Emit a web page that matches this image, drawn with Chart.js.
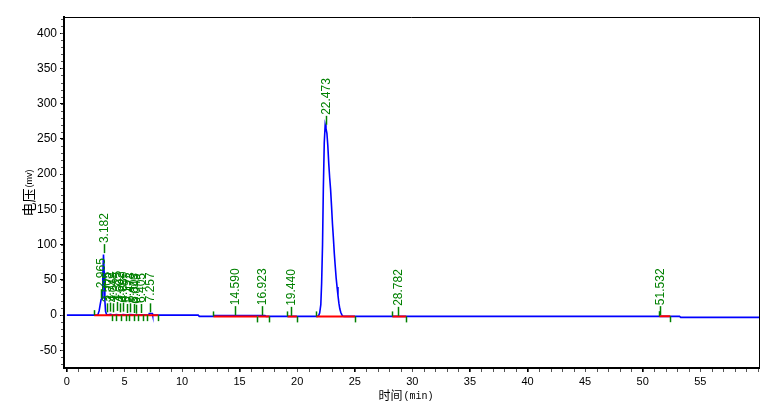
<!DOCTYPE html>
<html>
<head>
<meta charset="utf-8">
<script src="https://cdn.jsdelivr.net/npm/chart.js@4.4.1/dist/chart.umd.min.js"></script>
<style>
html,body{margin:0;padding:0;background:#fff;}
#wrap{width:780px;height:418px;}
</style>
</head>
<body>
<div id="wrap"><canvas id="c" width="780" height="418"></canvas></div>
<script>
// ---- data ----
const sigTime = [0, 2.6, 2.7, 2.8, 2.88, 2.97, 3.05, 3.12, 3.18, 3.24, 3.3, 3.36, 3.45, 3.6, 3.8, 4.0, 4.3, 4.6, 4.9, 5.2, 5.5, 6.0, 6.5, 7.0, 7.12, 7.15, 7.42, 7.45,
  11.4, 11.5, 12.7, 12.8, 17.2, 17.3, 21.75, 21.85, 21.95, 22.05, 22.12, 22.2, 22.27, 22.35, 22.43, 22.5, 22.58, 22.66, 22.74, 22.82, 22.9, 22.98, 23.06, 23.14, 23.22, 23.3, 23.38, 23.46, 23.54, 23.62, 23.7, 23.78, 23.86, 23.95, 24.1,
  53.2, 53.3, 60.1];
const sigValue = [0, 0, 1, 6, 14, 22, 24, 55, 86, 60, 20, 5, 1, 0.5, 1.2, 0.3, 1, 0.3, 1, 0.3, 0.8, 0.3, 0.6, 0, 0, 2.4, 2.4, 0,
  0, -1.8, -1.8, -0.5, -0.5, -1.8, -1.8, -1, 3, 15, 45, 100, 180, 245, 270, 265, 258, 240, 215, 195, 178, 155, 130, 110, 88, 70, 53, 40, 28, 17, 9, 4, 1, -1.5, -1.8,
  -1.8, -3.2, -3.2];

const peakTimes   = [2.965, 3.182, 3.505, 3.772, 4.048, 4.325, 4.602, 4.880, 5.197, 5.473, 5.803, 6.045, 6.405, 7.257, 14.590, 16.923, 19.440, 22.473, 28.782, 51.532];
const peakLabels  = ["2.965", "3.182", "3.505", "3.772", "4.048", "4.325", "4.602", "4.880", "5.197", "5.473", "5.803", "6.045", "6.405", "7.257", "14.590", "16.923", "19.440", "22.473", "28.782", "51.532"];
const peakHeights = [24, 88, 4, 5, 4, 6, 4, 5, 3, 4, 3, 2, 3, 4, 0, 0, -1, 270, -1, 0];

const baseStart = [2.37, 12.72, 16.6, 19.15, 21.65, 28.26, 51.45];
const baseEnd   = [7.95, 16.55, 17.6, 19.97, 25.02, 29.47, 52.4];
const baseLevel = [0, -1.8, -1.8, -1.8, -1.8, -1.8, -1.5];

const markTimes = [2.37, 7.95, 3.96, 4.25, 4.68, 5.12, 5.4, 5.84, 6.19, 6.57, 7.0, 12.72, 16.55, 17.56, 19.15, 19.97, 21.65, 25.02, 28.26, 29.47, 51.45, 52.4];
const markDirs  = [1, -1, -1, -1, -1, -1, -1, -1, -1, -1, -1, 1, -1, -1, 1, -1, 1, -1, 1, -1, 1, -1];
const markLevel = [0, 0, 0, 0, 0, 0, 0, 0, 0, 0, 0, -1.8, -1.8, -1.8, -1.8, -1.8, -1.8, -1.8, -1.8, -1.8, -1.5, -1.5];

const xMajorTicks = [0, 5, 10, 15, 20, 25, 30, 35, 40, 45, 50, 55];
const yMajorTicks = [-50, 0, 50, 100, 150, 200, 250, 300, 350, 400];
const xMinorTicks = Array.from({length: 61}, (_, i) => i);
const yMinorTicks = Array.from({length: 50}, (_, i) => -70 + i * 10);

const yTitleMain = "电压", yTitleUnit = "(mv)";
const xTitleMain = "时间", xTitleUnit = "(min)";

// ---- build datasets ----
const sigPts = sigTime.map((t, i) => ({x: t, y: sigValue[i]}));
const basePts = [];
baseStart.forEach((s, i) => {
  basePts.push({x: s, y: baseLevel[i]}, {x: baseEnd[i], y: baseLevel[i]}, {x: baseEnd[i], y: null});
});

const GREEN = '#008000';
const overlay = {
  id: 'overlay',
  afterDatasetsDraw(chart) {
    const ctx = chart.ctx, xs = chart.scales.x, ys = chart.scales.y;
    ctx.save();
    ctx.strokeStyle = GREEN; ctx.lineWidth = 1.5;
    markTimes.forEach((t, i) => {
      const px = Math.round(xs.getPixelForValue(t)) + 0.5;
      const py = ys.getPixelForValue(markLevel[i]);
      ctx.beginPath();
      if (markDirs[i] > 0) { ctx.moveTo(px, py); ctx.lineTo(px, py - 5); }
      else { ctx.moveTo(px, py); ctx.lineTo(px, py + 6); }
      ctx.stroke();
    });
    ctx.fillStyle = GREEN;
    ctx.font = '12px "Liberation Sans", Arial, sans-serif';
    peakTimes.forEach((t, i) => {
      const px = Math.round(xs.getPixelForValue(t)) + 0.5;
      const py = ys.getPixelForValue(peakHeights[i]);
      ctx.beginPath(); ctx.moveTo(px, py); ctx.lineTo(px, py - 9); ctx.stroke();
      ctx.save();
      ctx.translate(px, py - 10);
      ctx.rotate(-Math.PI / 2);
      ctx.textAlign = 'left'; ctx.textBaseline = 'middle';
      ctx.fillText(peakLabels[i], 0, 0);
      ctx.restore();
    });
    ctx.restore();
  },
  afterDraw(chart) {
    const ctx = chart.ctx, xs = chart.scales.x, ys = chart.scales.y, a = chart.chartArea;
    ctx.save();
    ctx.strokeStyle = '#000';
    ctx.lineWidth = 1;
    ctx.beginPath();
    ctx.moveTo(a.left, a.top + 0.5); ctx.lineTo(a.right + 0.5, a.top + 0.5); ctx.lineTo(a.right + 0.5, a.bottom);
    ctx.stroke();
    ctx.strokeStyle = '#555';
    xMinorTicks.forEach(v => {
      const px = Math.round(xs.getPixelForValue(v)) + 0.5;
      ctx.beginPath(); ctx.moveTo(px, a.bottom + 1); ctx.lineTo(px, a.bottom + 4); ctx.stroke();
    });
    yMinorTicks.forEach(v => {
      const py = Math.round(ys.getPixelForValue(v)) + 0.5;
      ctx.beginPath(); ctx.moveTo(a.left - 1, py); ctx.lineTo(a.left - 3, py); ctx.stroke();
    });
    ctx.fillStyle = '#000';
    ctx.textBaseline = 'middle';
    ctx.save();
    ctx.translate(29, 193);
    ctx.rotate(-Math.PI / 2);
    ctx.font = '14px "Noto Sans CJK SC", sans-serif';
    const w1 = ctx.measureText(yTitleMain).width;
    ctx.font = '9px "Liberation Sans", Arial, sans-serif';
    const w2 = ctx.measureText(yTitleUnit).width;
    let sx = -(w1 + w2 + 1) / 2;
    ctx.textAlign = 'left';
    ctx.font = '14px "Noto Sans CJK SC", sans-serif';
    ctx.fillText(yTitleMain, sx, 0);
    ctx.font = '9px "Liberation Sans", Arial, sans-serif';
    ctx.fillText(yTitleUnit, sx + w1 + 1, 1);
    ctx.restore();
    ctx.save();
    ctx.font = '12px "Noto Sans CJK SC", sans-serif';
    const v1 = ctx.measureText(xTitleMain).width;
    ctx.font = '10px "Liberation Mono", monospace';
    const v2 = ctx.measureText(xTitleUnit).width;
    let tx = 406 - (v1 + v2 + 1) / 2;
    ctx.textAlign = 'left';
    ctx.font = '12px "Noto Sans CJK SC", sans-serif';
    ctx.fillText(xTitleMain, tx, 395);
    ctx.font = '10px "Liberation Mono", monospace';
    ctx.fillText(xTitleUnit, tx + v1 + 1, 396);
    ctx.restore();
    ctx.restore();
  }
};

new Chart(document.getElementById('c'), {
  type: 'line',
  data: {
    datasets: [
      {data: basePts, borderColor: '#ff0000', borderWidth: 2, pointRadius: 0, spanGaps: false, order: 0, tension: 0},
      {data: sigPts, borderColor: '#0000ff', borderWidth: 1.6, pointRadius: 0, order: 1, tension: 0}
    ]
  },
  options: {
    responsive: false,
    animation: false,
    devicePixelRatio: 1,
    layout: {padding: {left: 0, right: 21, top: 17, bottom: 0}},
    plugins: {legend: {display: false}, tooltip: {enabled: false}},
    scales: {
      x: {
        type: 'linear', min: -0.25, max: 60.1,
        afterBuildTicks: s => { s.ticks = xMajorTicks.map(v => ({value: v})); },
        afterFit: s => { s.height = 50; },
        ticks: {autoSkip: false, maxRotation: 0, color: '#000', padding: 3,
          font: {family: '"Liberation Sans Narrow", "Liberation Sans", Arial', size: 11},
          callback: v => String(v)},
        grid: {drawOnChartArea: false, drawTicks: true, tickLength: 4, color: '#000'},
        border: {display: true, color: '#000', width: 2}
      },
      y: {
        type: 'linear', min: -75, max: 423,
        afterBuildTicks: s => { s.ticks = yMajorTicks.map(v => ({value: v})); },
        afterFit: s => { s.width = 64; },
        ticks: {autoSkip: false, color: '#000', padding: 3,
          font: {family: '"Liberation Sans", Arial', size: 12},
          callback: v => String(v)},
        grid: {drawOnChartArea: false, drawTicks: true, tickLength: 4, color: '#000'},
        border: {display: true, color: '#000', width: 2}
      }
    }
  },
  plugins: [overlay]
});
</script>
</body>
</html>
